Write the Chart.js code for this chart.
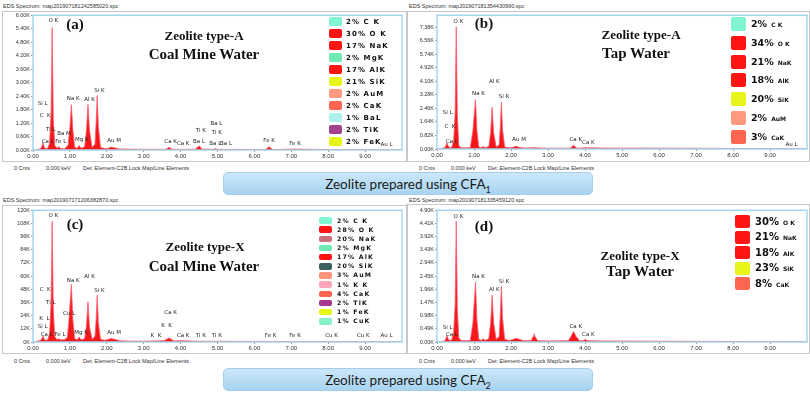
<!DOCTYPE html>
<html>
<head>
<meta charset="utf-8">
<script src="https://cdn.jsdelivr.net/npm/chart.js@4.4.0/dist/chart.umd.min.js"></script>
<style>
body{margin:0;width:810px;height:393px;background:#fff;position:relative;overflow:hidden;font-family:'Liberation Sans',Arial,sans-serif}
.hdr{position:absolute;font-size:5.5px;color:#333;white-space:nowrap}
.ftr{position:absolute;font-size:5.5px;color:#333;white-space:nowrap}
.box{position:absolute;border:1px solid #c8c8c8;box-sizing:border-box}
canvas{position:absolute}
.banner{position:absolute;left:223px;width:370px;height:23px;border-radius:5px;background:linear-gradient(#cbe7f9,#a8d4f1);border:1px solid #a3cdea;box-sizing:border-box;text-align:center;font:13.5px Lato,'Open Sans',sans-serif;line-height:22px;color:#1a1a1a}
.ttl{position:absolute;font-family:'Liberation Serif','Times New Roman',serif;font-weight:bold;color:#111;white-space:nowrap;transform:translate(-50%,-50%)}
.row{position:absolute;white-space:nowrap;font-family:'DejaVu Sans',Verdana,sans-serif;font-weight:bold;color:#111}
.sw{position:absolute;border-radius:2px}
</style>
</head>
<body>
<div class="hdr" style="left:3px;top:3px">EDS Spectrum: map201907181242585020.spc</div>
<div class="hdr" style="left:409px;top:3px">EDS Spectrum: map201907181354430990.spc</div>
<div class="hdr" style="left:3px;top:197px">EDS Spectrum: map201907171206382870.spc</div>
<div class="hdr" style="left:409px;top:197px">EDS Spectrum: map201907181335459120.spc</div>

<div class="box" style="left:2px;top:11px;width:406px;height:151px"></div>
<div class="box" style="left:406px;top:11px;width:404px;height:151px"></div>
<div class="box" style="left:2px;top:205px;width:406px;height:149px"></div>
<div class="box" style="left:406px;top:204px;width:404px;height:150px"></div>

<canvas id="chartA" width="404" height="151" style="left:3px;top:11px"></canvas>
<canvas id="chartB" width="403" height="150" style="left:407px;top:11px"></canvas>
<canvas id="chartC" width="404" height="148" style="left:3px;top:206px"></canvas>
<canvas id="chartD" width="403" height="148" style="left:407px;top:206px"></canvas>

<div class="ftr" style="left:14px;top:165px">0 Cnts</div>
<div class="ftr" style="left:46px;top:165px">0.000 keV</div>
<div class="ftr" style="left:83px;top:165px">Det: Element-C2B Lock Map/Line Elements</div>
<div class="ftr" style="left:419px;top:165px">0 Cnts</div>
<div class="ftr" style="left:451px;top:165px">0.000 keV</div>
<div class="ftr" style="left:488px;top:165px">Det: Element-C2B Lock Map/Line Elements</div>
<div class="ftr" style="left:14px;top:358px">0 Cnts</div>
<div class="ftr" style="left:46px;top:358px">0.000 keV</div>
<div class="ftr" style="left:83px;top:358px">Det: Element-C2B Lock Map/Line Elements</div>
<div class="ftr" style="left:419px;top:358px">0 Cnts</div>
<div class="ftr" style="left:451px;top:358px">0.000 keV</div>
<div class="ftr" style="left:488px;top:358px">Det: Element-C2B Lock Map/Line Elements</div>

<div class="banner" style="top:172px">Zeolite prepared using CFA<sub style="font-size:9px">1</sub></div>
<div class="banner" style="top:368px">Zeolite prepared using CFA<sub style="font-size:9px">2</sub></div>

<div class="ttl" style="left:75px;top:24px;font-size:15px">(a)</div>
<div class="ttl" style="left:204px;top:36px;font-size:13px">Zeolite type-A</div>
<div class="ttl" style="left:204px;top:54px;font-size:15px">Coal Mine Water</div>
<div class="ttl" style="left:484px;top:23px;font-size:15px">(b)</div>
<div class="ttl" style="left:641px;top:35px;font-size:13px">Zeolite type-A</div>
<div class="ttl" style="left:636px;top:53px;font-size:15px">Tap Water</div>
<div class="ttl" style="left:75px;top:224px;font-size:15px">(c)</div>
<div class="ttl" style="left:205px;top:247px;font-size:13px">Zeolite type-X</div>
<div class="ttl" style="left:204px;top:266px;font-size:15px">Coal Mine Water</div>
<div class="ttl" style="left:484px;top:226px;font-size:15px">(d)</div>
<div class="ttl" style="left:640px;top:256px;font-size:13px">Zeolite type-X</div>
<div class="ttl" style="left:640px;top:271px;font-size:15px">Tap Water</div>

<div id="legends"></div>

<script>
const xTicks = [0, 1, 2, 3, 4, 5, 6, 7, 8, 9];

// (a) zeolite A, coal mine water  (counts in K)
const energyA = [0, 0.10, 0.20, 0.24, 0.27, 0.30, 0.34, 0.40, 0.45, 0.49, 0.52, 0.55, 0.59, 0.65, 0.70, 0.75, 0.85, 0.95, 1.00, 1.04, 1.08, 1.13, 1.20, 1.25, 1.30, 1.40, 1.45, 1.49, 1.53, 1.60, 1.68, 1.71, 1.74, 1.77, 1.83, 1.95, 2.05, 2.12, 2.20, 2.35, 2.60, 3.00, 3.60, 3.69, 3.78, 4.40, 4.47, 4.51, 4.58, 4.90, 4.93, 5.00, 6.30, 6.40, 6.50, 7.06, 8.00, 10.0];
const countsA = [0, 0.02, 0.05, 0.15, 0.32, 0.15, 0.06, 0.08, 0.3, 1.6, 5.45, 1.4, 0.2, 0.08, 0.15, 0.07, 0.05, 0.2, 1.0, 2.02, 0.9, 0.12, 0.08, 0.2, 0.08, 0.15, 0.9, 2.03, 0.9, 0.12, 0.25, 1.2, 2.43, 1.1, 0.12, 0.06, 0.08, 0.13, 0.1, 0.05, 0.04, 0.03, 0.03, 0.12, 0.03, 0.03, 0.15, 0.18, 0.04, 0.03, 0.06, 0.03, 0.02, 0.14, 0.02, 0.04, 0.02, 0.01];
const yTicksA = [0, 0.6, 1.2, 1.8, 2.4, 3.0, 3.6, 4.2, 4.8, 5.4, 6.0];
const peaksA = [['O K', 0.55, 5.75], ['Si L', 0.26, 2.07], ['C  K', 0.33, 1.54], ['Ti L', 0.48, 0.9], ['Ba M', 0.84, 0.75], ['Ca L', 0.40, 0.38], ['Fe L', 0.75, 0.38], ['Mg K', 1.32, 0.47], ['Na K', 1.09, 2.29], ['Al K', 1.53, 2.26], ['Si K', 1.80, 2.65], ['Au M', 2.20, 0.41], ['Ca K', 3.73, 0.37], ['Ca K', 4.07, 0.27], ['Ti K', 4.55, 0.85], ['Ba L', 4.50, 0.38], ['Ba L', 4.97, 1.18], ['Ti K', 4.98, 0.77], ['Ba L', 4.94, 0.27], ['Ba L', 5.23, 0.27], ['Fe K', 6.40, 0.40], ['Fe K', 7.10, 0.27], ['Au L', 9.58, 0.22]];
const legPctA = ['2%', '30%', '17%', '2%', '17%', '21%', '2%', '2%', '1%', '2%', '2%'];
const legElemA = ['C K', 'O K', 'NaK', 'MgK', 'AlK', 'SiK', 'AuM', 'CaK', 'BaL', 'TiK', 'FeK'];
const legColorA = ['#7ff5d2', '#ff1414', '#ff1414', '#6fe9b4', '#ff1414', '#e8f51a', '#ff9a80', '#ff6652', '#aef0ec', '#a2428e', '#e6f516'];

// (b) zeolite A, tap water
const energyB = [0, 0.10, 0.20, 0.24, 0.27, 0.30, 0.34, 0.40, 0.45, 0.49, 0.52, 0.55, 0.59, 0.65, 0.75, 0.90, 0.97, 1.04, 1.08, 1.13, 1.20, 1.25, 1.30, 1.40, 1.45, 1.49, 1.53, 1.60, 1.68, 1.71, 1.74, 1.77, 1.83, 1.95, 2.05, 2.14, 2.22, 2.35, 2.62, 3.00, 3.60, 3.69, 3.78, 4.01, 4.50, 6.40, 8.00, 10.0];
const countsB = [0, 0.03, 0.06, 0.2, 0.36, 0.2, 0.08, 0.1, 0.5, 2.2, 7.4, 2.0, 0.2, 0.08, 0.07, 0.08, 1.1, 3.0, 1.1, 0.12, 0.08, 0.15, 0.08, 0.15, 1.0, 2.53, 1.0, 0.12, 0.25, 1.3, 2.83, 1.2, 0.12, 0.07, 0.1, 0.16, 0.1, 0.06, 0.08, 0.05, 0.05, 0.22, 0.05, 0.08, 0.06, 0.05, 0.03, 0.02];
const yTicksB = [0, 0.82, 1.64, 2.46, 3.28, 4.10, 4.92, 5.74, 6.56, 7.38];
const peaksB = [['O K', 0.58, 7.72], ['Na K', 1.12, 3.36], ['Al K', 1.55, 4.06], ['Si K', 1.81, 3.17], ['Si L', 0.29, 2.18], ['C  K', 0.35, 1.38], ['Ca L', 0.40, 0.45], ['Au M', 2.22, 0.55], ['Ca K', 3.75, 0.59], ['Ca K', 4.09, 0.39], ['Au L', 9.58, 0.25]];
const legPctB = ['2%', '34%', '21%', '18%', '20%', '2%', '3%'];
const legElemB = ['C K', 'O K', 'NaK', 'AlK', 'SiK', 'AuM', 'CaK'];
const legColorB = ['#7ff5d2', '#ff1414', '#ff1414', '#ff1414', '#e8f51a', '#ff9a80', '#ff6652'];

// (c) zeolite X, coal mine water
const energyC = [0, 0.10, 0.20, 0.24, 0.27, 0.30, 0.34, 0.40, 0.45, 0.49, 0.52, 0.55, 0.59, 0.65, 0.70, 0.75, 0.85, 0.93, 0.97, 1.04, 1.08, 1.13, 1.20, 1.25, 1.30, 1.40, 1.45, 1.49, 1.53, 1.60, 1.68, 1.71, 1.74, 1.77, 1.83, 1.95, 2.05, 2.12, 2.20, 2.35, 2.62, 3.00, 3.31, 3.55, 3.69, 3.82, 4.01, 4.51, 6.40, 8.04, 10.0];
const countsC = [0, 0.5, 1.5, 3, 5.5, 3, 1.5, 2, 8, 35, 110, 30, 5, 2, 3, 2, 2, 4, 18, 52.5, 20, 3, 2, 4.5, 2, 3, 15, 36.6, 14, 2.5, 5, 20, 42.6, 18, 2.5, 1.5, 2.5, 3.2, 2.5, 1.2, 0.8, 0.8, 1.0, 1.2, 3.6, 1.0, 1.2, 0.7, 0.5, 0.4, 0.2];
const yTicksC = [0, 12, 24, 36, 48, 60, 72, 84, 96, 108, 120];
const peaksC = [['O K', 0.55, 115], ['Na K', 1.09, 56.4], ['Al K', 1.53, 60], ['Si K', 1.80, 47], ['C  K', 0.33, 48], ['Ti L', 0.48, 36], ['Cu L', 0.98, 25.5], ['K  L', 0.31, 21], ['Si L', 0.26, 14], ['Ca L', 0.37, 6.6], ['Fe L', 0.73, 6.6], ['Mg K', 1.30, 9], ['Au M', 2.20, 9], ['Ca K', 3.73, 27], ['K  K', 3.62, 15], ['K  K', 3.33, 5.7], ['Ca K', 4.07, 5.7], ['Ti K', 4.55, 5.7], ['Ti K', 4.98, 5.7], ['Fe K', 6.44, 5.7], ['Fe K', 7.10, 5.7], ['Cu K', 8.09, 5.7], ['Cu K', 8.95, 5.7], ['Au L', 9.58, 5.7]];
const legPctC = ['2%', '28%', '20%', '2%', '17%', '20%', '3%', '1%', '4%', '2%', '1%', '1%'];
const legElemC = ['C K', 'O K', 'NaK', 'MgK', 'AlK', 'SiK', 'AuM', 'K K', 'CaK', 'TiK', 'FeK', 'CuK'];
const legColorC = ['#7ff5d2', '#ff1414', '#c9707e', '#6fe9b4', '#ff1414', '#3d6060', '#ff9478', '#ffa4b8', '#ff6652', '#a8368e', '#e6f516', '#84f2c6'];

// (d) zeolite X, tap water
const energyD = [0, 0.10, 0.20, 0.24, 0.27, 0.30, 0.34, 0.40, 0.45, 0.49, 0.52, 0.55, 0.59, 0.65, 0.75, 0.90, 0.97, 1.04, 1.08, 1.13, 1.20, 1.25, 1.30, 1.40, 1.45, 1.49, 1.53, 1.60, 1.68, 1.71, 1.74, 1.77, 1.83, 1.95, 2.05, 2.14, 2.22, 2.35, 2.55, 2.60, 2.62, 2.65, 2.72, 3.00, 3.55, 3.62, 3.69, 3.76, 3.85, 3.95, 4.01, 4.08, 4.50, 6.00, 8.00, 10.0];
const countsD = [0, 0.01, 0.03, 0.12, 0.24, 0.12, 0.06, 0.08, 0.35, 1.4, 4.49, 1.2, 0.15, 0.06, 0.05, 0.06, 0.7, 2.22, 0.8, 0.1, 0.06, 0.12, 0.06, 0.12, 0.7, 1.74, 0.7, 0.1, 0.2, 1.0, 2.07, 0.9, 0.1, 0.06, 0.09, 0.14, 0.1, 0.05, 0.06, 0.2, 0.3, 0.2, 0.05, 0.04, 0.05, 0.2, 0.39, 0.2, 0.05, 0.05, 0.09, 0.05, 0.04, 0.03, 0.02, 0.01];
const yTicksD = [0, 0.49, 0.98, 1.47, 1.96, 2.45, 2.94, 3.43, 3.92, 4.41, 4.90];
const peaksD = [['O K', 0.58, 4.67], ['Na K', 1.12, 2.44], ['Al K', 1.55, 1.95], ['Si K', 1.81, 2.26], ['Si L', 0.29, 0.55], ['Ca L', 0.40, 0.29], ['Ca K', 3.75, 0.57], ['Ca K', 4.09, 0.29]];
const legPctD = ['30%', '21%', '18%', '23%', '8%'];
const legElemD = ['O K', 'NaK', 'AlK', 'SiK', 'CaK'];
const legColorD = ['#ff1414', '#ff1414', '#ff1414', '#e8f51a', '#ff6652'];

const peakSets = { chartA: peaksA, chartB: peaksB, chartC: peaksC, chartD: peaksD };

const framePlugin = {
    id: 'frame',
    afterDraw(chart) {
        const a = chart.chartArea, c = chart.ctx;
        c.save();
        c.strokeStyle = '#a4d6f1';
        c.lineWidth = 1.5;
        c.strokeRect(a.left, a.top, a.right - a.left, a.bottom - a.top);
        c.restore();
    }
};
const peakLabelPlugin = {
    id: 'peakLabels',
    afterDatasetsDraw(chart) {
        const c = chart.ctx, xs = chart.scales.x, ys = chart.scales.y;
        c.save();
        c.font = '5.5px "DejaVu Sans"';
        c.fillStyle = '#222';
        c.textAlign = 'center';
        c.textBaseline = 'middle';
        (peakSets[chart.canvas.id] || []).forEach(([t, e, v]) => c.fillText(t, xs.getPixelForValue(e), ys.getPixelForValue(v)));
        c.restore();
    }
};

function makeSpectrum(id, energy, counts, yTicks, yMax, fmt, padRight) {
    const pts = energy.map((e, i) => ({ x: e, y: counts[i] }));
    return new Chart(document.getElementById(id), {
        type: 'line',
        data: { datasets: [{ data: pts, borderColor: '#ff5b70', backgroundColor: '#f41818', borderWidth: 0.8, fill: 'origin', pointRadius: 0, tension: 0 }] },
        options: {
            responsive: false,
            animation: false,
            layout: { padding: { top: 2, right: padRight, left: 0, bottom: 0 } },
            plugins: { legend: { display: false }, tooltip: { enabled: false } },
            scales: {
                x: {
                    type: 'linear', min: 0, max: 10,
                    afterBuildTicks: s => { s.ticks = xTicks.map(v => ({ value: v })); },
                    afterFit: s => { s.height = 12; },
                    ticks: { autoSkip: false, maxRotation: 0, padding: 1, color: '#333', font: { size: 6, family: 'Liberation Sans' }, callback: v => v.toFixed(2) },
                    grid: { drawOnChartArea: false, tickLength: 2, color: '#999' },
                    border: { display: false }
                },
                y: {
                    min: 0, max: yMax,
                    afterBuildTicks: s => { s.ticks = yTicks.map(v => ({ value: v })); },
                    afterFit: s => { s.width = 30; },
                    ticks: { autoSkip: false, padding: 1, color: '#333', font: { size: 5.5, family: 'Liberation Sans' }, callback: fmt },
                    grid: { drawOnChartArea: false, tickLength: 2, color: '#999' },
                    border: { display: false }
                }
            }
        },
        plugins: [framePlugin, peakLabelPlugin]
    });
}

const fmtK = v => v.toFixed(2) + 'K';
makeSpectrum('chartA', energyA, countsA, yTicksA, 6.0, fmtK, 5);
makeSpectrum('chartB', energyB, countsB, yTicksB, 8.1, fmtK, 3);
makeSpectrum('chartC', energyC, countsC, yTicksC, 120, v => Math.round(v) + 'K', 5);
makeSpectrum('chartD', energyD, countsD, yTicksD, 4.9, fmtK, 3);

// legends
function buildLegend(o) {
    const host = document.getElementById('legends');
    o.pct.forEach((p, i) => {
        const cy = o.top + i * o.step;
        const sw = document.createElement('div');
        sw.className = 'sw';
        sw.style.cssText = `left:${o.swLeft}px;top:${cy - o.swH / 2}px;width:${o.swW}px;height:${o.swH}px;background:${o.colors[i]}`;
        host.appendChild(sw);
        const row = document.createElement('div');
        row.className = 'row';
        if (o.big) {
            row.style.cssText = `left:${o.textLeft}px;top:${cy}px;transform:translateY(-50%);font-size:${o.big}px;line-height:1`;
            row.innerHTML = `${p}<span style="font-size:${o.small}px;margin-left:4px">${o.elem[i]}</span>`;
        } else {
            row.style.cssText = `left:${o.textLeft}px;top:${cy}px;transform:translateY(-50%);font-size:${o.small}px;letter-spacing:${o.ls}px;line-height:1`;
            row.textContent = `${p} ${o.elem[i]}`;
        }
        host.appendChild(row);
    });
}
buildLegend({ pct: legPctA, elem: legElemA, colors: legColorA, top: 21.7, step: 12, swLeft: 329, swW: 13, swH: 9, textLeft: 346, small: 7, ls: 1.1 });
buildLegend({ pct: legPctB, elem: legElemB, colors: legColorB, top: 24, step: 18.8, swLeft: 731, swW: 15, swH: 14, textLeft: 751, big: 9.5, small: 6 });
buildLegend({ pct: legPctC, elem: legElemC, colors: legColorC, top: 220.5, step: 9.16, swLeft: 319, swW: 13, swH: 6.5, textLeft: 337, small: 6.2, ls: 1.2 });
buildLegend({ pct: legPctD, elem: legElemD, colors: legColorD, top: 221.7, step: 15.5, swLeft: 735, swW: 14.5, swH: 13, textLeft: 755, big: 10, small: 6 });
</script>
</body>
</html>
